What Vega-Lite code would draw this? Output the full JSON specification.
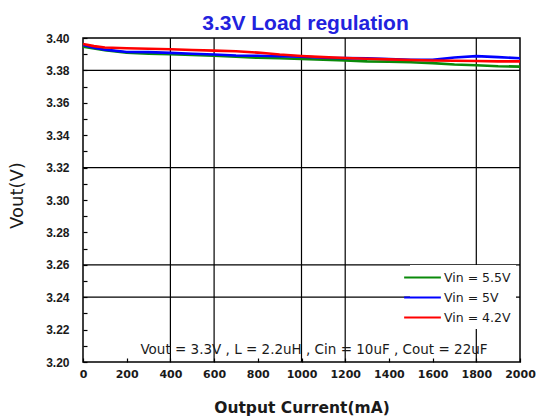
{
  "$schema": "https://vega.github.io/schema/vega-lite/v6.json",
  "width": 437,
  "height": 324,
  "autosize": {"type": "none"},
  "padding": {"left": 83, "top": 38, "right": 18, "bottom": 54},
  "background": "white",
  "config": {
    "font": "Liberation Sans",
    "view": {"stroke": "#000000", "strokeWidth": 1.5},
    "axis": {"labelOverlap": false, "labelFlush": false, "labelBound": false}
  },
  "title": {
    "text": "3.3V Load regulation",
    "fontSize": 21,
    "fontWeight": "bold",
    "color": "#2222dd",
    "font": "Liberation Sans",
    "anchor": "middle",
    "baseline": "alphabetic",
    "offset": 9,
    "dx": 4,
    "dy": 28
  },
  "resolve": {"axis": {"y": "independent"}},
  "datasets": {
    "gridx": [{"x": 400}, {"x": 600}, {"x": 1000}, {"x": 1200}, {"x": 1800}],
    "gridy": [{"v": 3.38}, {"v": 3.32}, {"v": 3.26}, {"v": 3.24}],
    "note": [{"x": 1057, "v": 3.2077, "t": "Vout = 3.3V , L = 2.2uH , Cin = 10uF , Cout = 22uF"}],
    "series": [
      {"s": "Vin = 5.5V", "x": 0, "v": 3.3946},
      {"s": "Vin = 5.5V", "x": 50, "v": 3.3935},
      {"s": "Vin = 5.5V", "x": 100, "v": 3.3925},
      {"s": "Vin = 5.5V", "x": 200, "v": 3.3910},
      {"s": "Vin = 5.5V", "x": 300, "v": 3.3903},
      {"s": "Vin = 5.5V", "x": 400, "v": 3.3900},
      {"s": "Vin = 5.5V", "x": 500, "v": 3.3896},
      {"s": "Vin = 5.5V", "x": 600, "v": 3.3890},
      {"s": "Vin = 5.5V", "x": 700, "v": 3.3884},
      {"s": "Vin = 5.5V", "x": 800, "v": 3.3878},
      {"s": "Vin = 5.5V", "x": 900, "v": 3.3875},
      {"s": "Vin = 5.5V", "x": 1000, "v": 3.3870},
      {"s": "Vin = 5.5V", "x": 1100, "v": 3.3866},
      {"s": "Vin = 5.5V", "x": 1200, "v": 3.3862},
      {"s": "Vin = 5.5V", "x": 1300, "v": 3.3856},
      {"s": "Vin = 5.5V", "x": 1400, "v": 3.3854},
      {"s": "Vin = 5.5V", "x": 1500, "v": 3.3850},
      {"s": "Vin = 5.5V", "x": 1600, "v": 3.3845},
      {"s": "Vin = 5.5V", "x": 1700, "v": 3.3836},
      {"s": "Vin = 5.5V", "x": 1800, "v": 3.3832},
      {"s": "Vin = 5.5V", "x": 1900, "v": 3.3826},
      {"s": "Vin = 5.5V", "x": 2000, "v": 3.3823},
      {"s": "Vin = 5V", "x": 0, "v": 3.3957},
      {"s": "Vin = 5V", "x": 50, "v": 3.3940},
      {"s": "Vin = 5V", "x": 100, "v": 3.3928},
      {"s": "Vin = 5V", "x": 200, "v": 3.3914},
      {"s": "Vin = 5V", "x": 300, "v": 3.3913},
      {"s": "Vin = 5V", "x": 400, "v": 3.3908},
      {"s": "Vin = 5V", "x": 500, "v": 3.3903},
      {"s": "Vin = 5V", "x": 600, "v": 3.3898},
      {"s": "Vin = 5V", "x": 700, "v": 3.3892},
      {"s": "Vin = 5V", "x": 800, "v": 3.3890},
      {"s": "Vin = 5V", "x": 900, "v": 3.3887},
      {"s": "Vin = 5V", "x": 1000, "v": 3.3885},
      {"s": "Vin = 5V", "x": 1100, "v": 3.3878},
      {"s": "Vin = 5V", "x": 1200, "v": 3.3876},
      {"s": "Vin = 5V", "x": 1300, "v": 3.3874},
      {"s": "Vin = 5V", "x": 1400, "v": 3.3870},
      {"s": "Vin = 5V", "x": 1500, "v": 3.3866},
      {"s": "Vin = 5V", "x": 1600, "v": 3.3865},
      {"s": "Vin = 5V", "x": 1700, "v": 3.3880},
      {"s": "Vin = 5V", "x": 1800, "v": 3.3888},
      {"s": "Vin = 5V", "x": 1900, "v": 3.3882},
      {"s": "Vin = 5V", "x": 2000, "v": 3.3875},
      {"s": "Vin = 4.2V", "x": 0, "v": 3.3963},
      {"s": "Vin = 4.2V", "x": 50, "v": 3.3950},
      {"s": "Vin = 4.2V", "x": 100, "v": 3.3941},
      {"s": "Vin = 4.2V", "x": 200, "v": 3.3937},
      {"s": "Vin = 4.2V", "x": 300, "v": 3.3934},
      {"s": "Vin = 4.2V", "x": 400, "v": 3.3931},
      {"s": "Vin = 4.2V", "x": 500, "v": 3.3926},
      {"s": "Vin = 4.2V", "x": 600, "v": 3.3922},
      {"s": "Vin = 4.2V", "x": 700, "v": 3.3918},
      {"s": "Vin = 4.2V", "x": 800, "v": 3.3910},
      {"s": "Vin = 4.2V", "x": 900, "v": 3.3898},
      {"s": "Vin = 4.2V", "x": 1000, "v": 3.3889},
      {"s": "Vin = 4.2V", "x": 1100, "v": 3.3882},
      {"s": "Vin = 4.2V", "x": 1200, "v": 3.3877},
      {"s": "Vin = 4.2V", "x": 1300, "v": 3.3872},
      {"s": "Vin = 4.2V", "x": 1400, "v": 3.3868},
      {"s": "Vin = 4.2V", "x": 1500, "v": 3.3864},
      {"s": "Vin = 4.2V", "x": 1600, "v": 3.3861},
      {"s": "Vin = 4.2V", "x": 1700, "v": 3.3860},
      {"s": "Vin = 4.2V", "x": 1800, "v": 3.3858},
      {"s": "Vin = 4.2V", "x": 1900, "v": 3.3856},
      {"s": "Vin = 4.2V", "x": 2000, "v": 3.3856}
    ]
  },
  "layer": [
    {
      "data": {"name": "gridx"},
      "mark": {"type": "rule", "color": "#000000", "strokeWidth": 1.2},
      "encoding": {
        "x": {"field": "x", "type": "quantitative", "scale": {"domain": [0, 2000], "nice": false, "zero": false}}
      }
    },
    {
      "data": {"name": "gridy"},
      "mark": {"type": "rule", "color": "#000000", "strokeWidth": 1.2},
      "encoding": {
        "y": {
          "field": "v", "type": "quantitative",
          "scale": {"domain": [3.2, 3.4], "nice": false, "zero": false},
          "axis": {
            "orient": "left",
            "title": null,
            "values": [3.21, 3.23, 3.25, 3.27, 3.29, 3.31, 3.33, 3.35, 3.37, 3.39],
            "labels": false,
            "grid": false,
            "domain": false,
            "ticks": true,
            "tickSize": -4,
            "tickColor": "#000000",
            "tickWidth": 1.2
          }
        }
      }
    },
    {
      "data": {"name": "series"},
      "mark": {"type": "line", "strokeWidth": 2.6, "clip": true},
      "encoding": {
        "x": {
          "field": "x", "type": "quantitative",
          "scale": {"domain": [0, 2000], "nice": false, "zero": false},
          "axis": {
            "title": "Output Current(mA)",
            "values": [0, 100, 200, 300, 400, 500, 600, 700, 800, 900, 1000, 1100, 1200, 1300, 1400, 1500, 1600, 1700, 1800, 1900, 2000],
            "format": "d",
            "labelExpr": "datum.value % 200 == 0 ? datum.label : ''",
            "grid": false,
            "domain": false,
            "ticks": true,
            "tickSize": -4,
            "tickColor": "#000000",
            "tickWidth": 1.2,
            "labelOverlap": false,
            "labelFont": "DejaVu Sans",
            "labelFontSize": 11,
            "labelFontWeight": "bold",
            "labelColor": "#1a1a1a",
            "labelPadding": 10,
            "titleFont": "DejaVu Sans",
            "titleFontSize": 15.5,
            "titleFontWeight": "bold",
            "titleColor": "#1a1a1a",
            "titleY": 45,
            "titleBaseline": "middle"
          }
        },
        "y": {
          "field": "v", "type": "quantitative",
          "scale": {"domain": [3.2, 3.4], "nice": false, "zero": false},
          "axis": {
            "orient": "left",
            "title": "Vout(V)",
            "values": [3.2, 3.22, 3.24, 3.26, 3.28, 3.3, 3.32, 3.34, 3.36, 3.38, 3.4],
            "format": ".2f",
            "grid": false,
            "domain": false,
            "ticks": true,
            "tickSize": -4,
            "tickColor": "#000000",
            "tickWidth": 1.2,
            "labelOverlap": false,
            "labelFontSize": 12,
            "labelFontWeight": "bold",
            "labelColor": "#1a1a1a",
            "labelPadding": 18,
            "titleFont": "DejaVu Sans",
            "titleFontSize": 18,
            "titleFontWeight": "normal",
            "titleColor": "#1a1a1a",
            "titleX": -66,
            "titleY": 157,
            "titleAlign": "center",
            "titleBaseline": "middle"
          }
        },
        "color": {
          "field": "s", "type": "nominal",
          "scale": {"domain": ["Vin = 5.5V", "Vin = 5V", "Vin = 4.2V"], "range": ["#0a8a0a", "#0000ff", "#ff0000"]},
          "legend": {
            "orient": "none",
            "legendX": 327,
            "legendY": 227,
            "title": null,
            "direction": "vertical",
            "symbolType": "M-3,0H3",
            "symbolSize": 150,
            "symbolStrokeWidth": 2,
            "symbolFillColor": "transparent",
            "fillColor": "white",
            "padding": 5,
            "rowPadding": 6,
            "labelOffset": 14,
            "labelFont": "DejaVu Sans",
            "labelFontSize": 12.5,
            "labelColor": "#1a1a1a"
          }
        }
      }
    },
    {
      "data": {"name": "note"},
      "mark": {"type": "text", "font": "DejaVu Sans", "fontSize": 13.5, "color": "#1a1a1a", "align": "center", "baseline": "middle"},
      "encoding": {
        "x": {"field": "x", "type": "quantitative"},
        "y": {"field": "v", "type": "quantitative", "axis": null},
        "text": {"field": "t"}
      }
    }
  ]
}
